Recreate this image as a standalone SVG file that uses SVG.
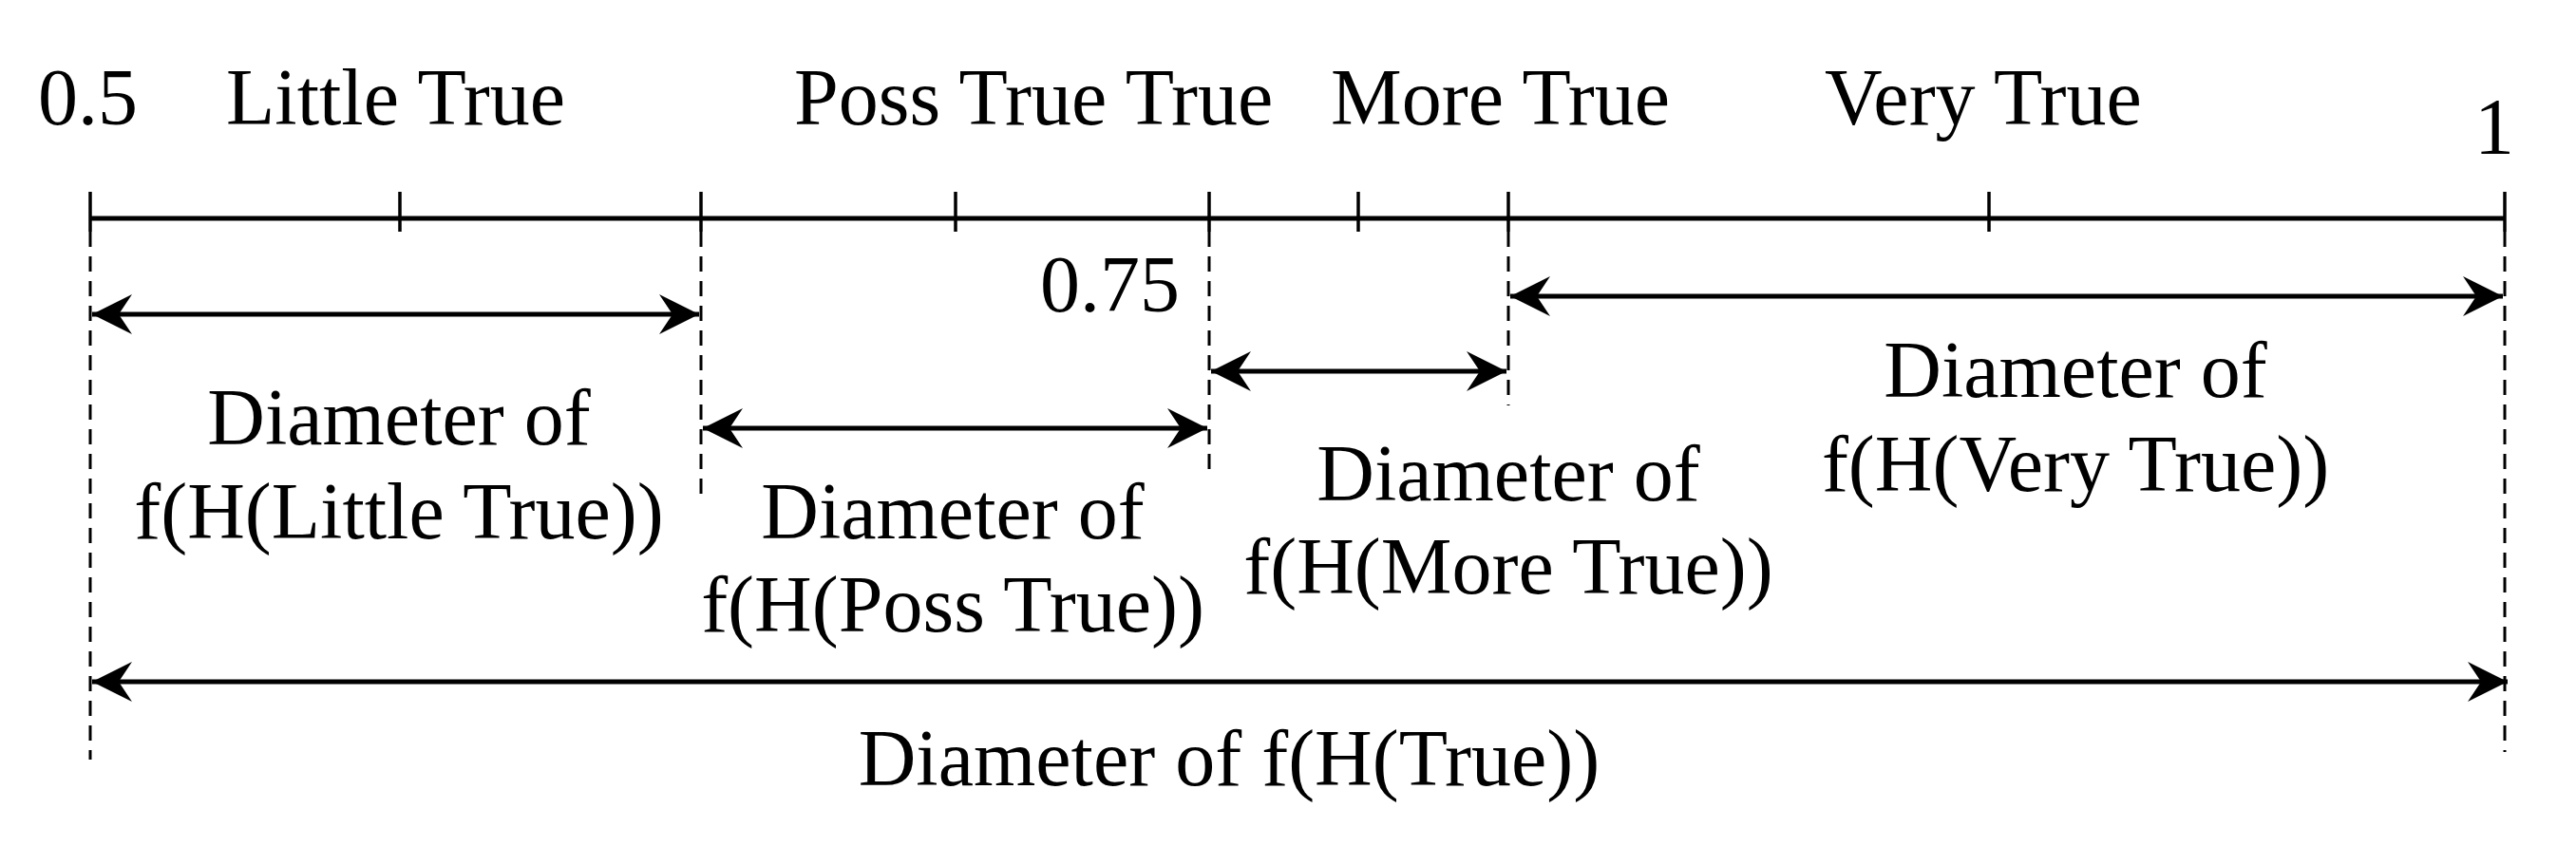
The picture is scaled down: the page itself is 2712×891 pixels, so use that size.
<svg xmlns="http://www.w3.org/2000/svg" width="2712" height="891" viewBox="0 0 2712 891">
<style>
text{font-family:"Liberation Serif","Times New Roman",serif;font-size:84px;fill:#000}
.m{text-anchor:middle}
.axis{stroke:#000;stroke-width:5;fill:none}
.tick{stroke:#000;stroke-width:3.5;fill:none}
.dash{stroke:#000;stroke-width:3;stroke-dasharray:16 10;fill:none}
.arr{stroke:#000;stroke-width:5;fill:none;marker-start:url(#ah);marker-end:url(#ah)}
</style>
<defs>
<marker id="ah" markerUnits="userSpaceOnUse" viewBox="-44 -23 46 46" refX="0" refY="0" markerWidth="46" markerHeight="46" orient="auto-start-reverse">
<path d="M0,0 L-42,-21 L-28,0 L-42,21 Z" fill="#000"/>
</marker>
</defs>
<rect width="2712" height="891" fill="#fff"/>
<g id="axis">
<line class="axis" x1="95" y1="230" x2="2637" y2="230"/>
<path class="tick" d="M95,202V244M421,202V244M738,202V244M1006,202V244M1273,202V244M1430,202V244M1588,202V244M2094,202V244M2637,202V244"/>
<text x="40" y="131">0.5</text>
<text x="238" y="131">Little True</text>
<text x="836" y="131">Poss True True</text>
<text x="1401" y="131">More True</text>
<text x="1921" y="131">Very True</text>
<text class="m" x="2626" y="162">1</text>
<text x="1242" y="328" text-anchor="end">0.75</text>
</g>
<g id="connectors">
<line class="dash" x1="95" y1="244" x2="95" y2="800"/>
<line class="dash" x1="738" y1="244" x2="738" y2="527"/>
<line class="dash" x1="1273" y1="244" x2="1273" y2="502"/>
<line class="dash" x1="1588" y1="244" x2="1588" y2="427"/>
<line class="dash" x1="2637" y1="244" x2="2637" y2="792"/>
<line class="arr" x1="97" y1="331" x2="736" y2="331"/>
<line class="arr" x1="740" y1="451" x2="1271" y2="451"/>
<line class="arr" x1="1275" y1="391" x2="1586" y2="391"/>
<line class="arr" x1="1590" y1="312" x2="2635" y2="312"/>
<line class="arr" x1="97" y1="718" x2="2640" y2="718"/>
</g>
<g id="little">
<text class="m" x="420" y="468">Diameter of</text>
<text class="m" x="420" y="567">f(H(Little True))</text>
</g>
<g id="poss">
<text class="m" x="1003" y="567">Diameter of</text>
<text class="m" x="1003" y="665">f(H(Poss True))</text>
</g>
<g id="more">
<text class="m" x="1588" y="527">Diameter of</text>
<text class="m" x="1588" y="625">f(H(More True))</text>
</g>
<g id="very">
<text class="m" x="2185" y="418">Diameter of</text>
<text class="m" x="2185" y="517">f(H(Very True))</text>
</g>
<g id="true">
<text class="m" x="1294" y="827">Diameter of f(H(True))</text>
</g>
</svg>
